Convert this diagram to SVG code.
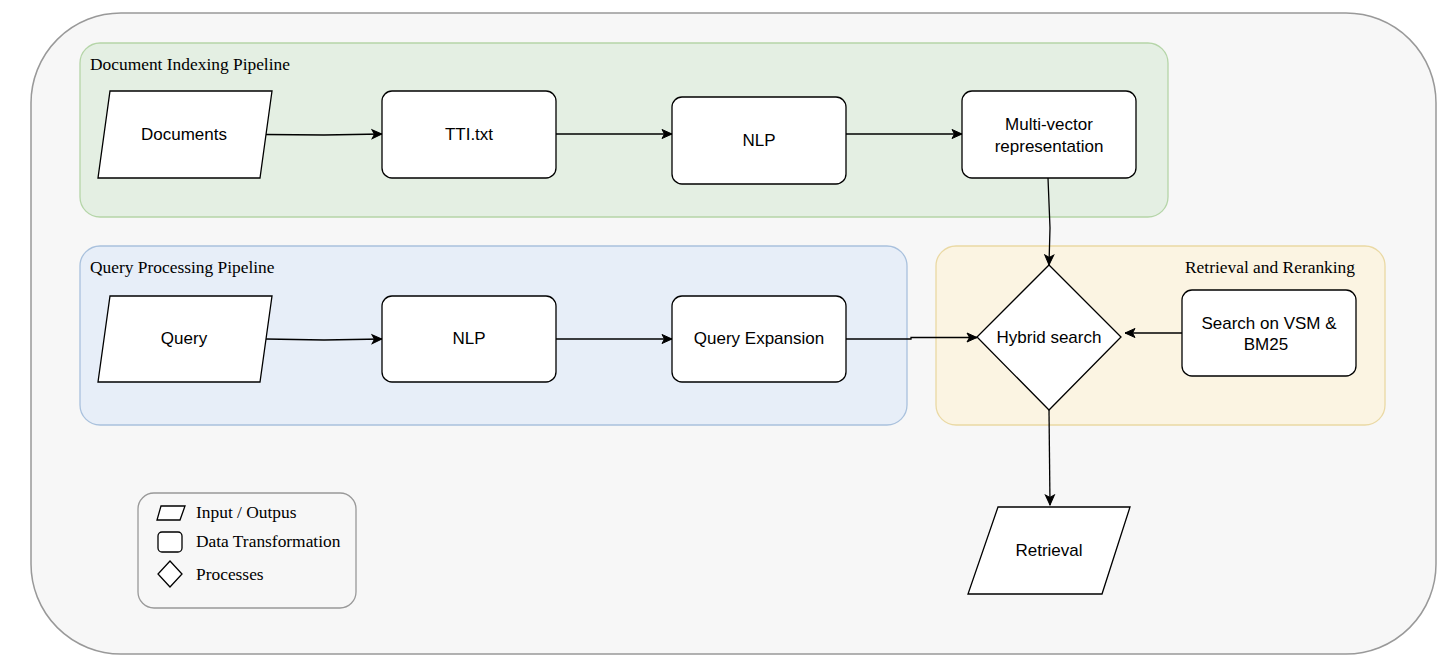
<svg xmlns="http://www.w3.org/2000/svg" width="1449" height="667" viewBox="0 0 1449 667">
  <defs>
    <marker id="arrow" viewBox="0 0 12 12" refX="11" refY="6" markerWidth="12" markerHeight="12" markerUnits="userSpaceOnUse" orient="auto">
      <path d="M1,1.5 L11,6 L1,10.5 L3.5,6 Z" fill="#000" stroke="#000" stroke-width="1"/>
    </marker>
    <style>
      .node { fill: #fff; stroke: #000; stroke-width: 1.3; }
      .lbl { font-family: "Liberation Sans", Arial, sans-serif; font-size: 17px; fill: #000; text-anchor: middle; dominant-baseline: central; }
      .title { font-family: "Liberation Serif", "Times New Roman", serif; font-size: 17.4px; fill: #000; }
      .edge { fill: none; stroke: #000; stroke-width: 1.3; marker-end: url(#arrow); }
    </style>
  </defs>

  <rect width="1449" height="667" fill="#fff"/>

  <!-- outer container -->
  <rect id="container" x="31" y="13" width="1405" height="641" rx="90" ry="90" fill="#f7f7f7" stroke="#999" stroke-width="1.5"/>

  <!-- pipeline groups -->
  <g id="group-indexing">
    <rect x="80" y="43" width="1088" height="174" rx="20" ry="20" fill="#e4efe3" stroke="#b5d5a8" stroke-width="1.3"/>
    <text class="title" x="90" y="70">Document Indexing Pipeline</text>
  </g>
  <g id="group-query">
    <rect x="80" y="246" width="827" height="179" rx="20" ry="20" fill="#e7eef8" stroke="#a9c1dd" stroke-width="1.3"/>
    <text class="title" x="90" y="273">Query Processing Pipeline</text>
  </g>
  <g id="group-retrieval">
    <rect x="936" y="246" width="449" height="179" rx="20" ry="20" fill="#fbf4e2" stroke="#ead9a4" stroke-width="1.3"/>
    <text class="title" x="1355" y="273" text-anchor="end">Retrieval and Reranking</text>
  </g>

  <!-- connectors -->
  <g id="connectors">
    <path class="edge" d="M266,134.5 L324,135 L382,134"/>
    <path class="edge" d="M556,134 L672,134"/>
    <path class="edge" d="M846,134 L962,134"/>
    <path class="edge" d="M1048,178 L1050,228 L1049,265"/>
    <path class="edge" d="M266,339 L324,340 L382,339"/>
    <path class="edge" d="M556,339 L672,339"/>
    <path class="edge" d="M846,339 L911,339 L911,337.5 L977,337.5"/>
    <path class="edge" d="M1182,333 L1125,333"/>
    <path class="edge" d="M1049,410 L1050,505"/>
  </g>

  <!-- nodes -->
  <g id="node-documents">
    <polygon class="node" points="110,91 272,91 260,178 98,178"/>
    <text class="lbl" x="184" y="134">Documents</text>
  </g>
  <g id="node-tti">
    <rect class="node" x="382" y="91" width="174" height="87" rx="10" ry="10"/>
    <text class="lbl" x="469" y="134">TTI.txt</text>
  </g>
  <g id="node-nlp-doc">
    <rect class="node" x="672" y="97" width="174" height="87" rx="10" ry="10"/>
    <text class="lbl" x="759" y="140">NLP</text>
  </g>
  <g id="node-multivector">
    <rect class="node" x="962" y="91" width="174" height="87" rx="10" ry="10"/>
    <text class="lbl" x="1049" y="124">Multi-vector</text>
    <text class="lbl" x="1049" y="146">representation</text>
  </g>
  <g id="node-query">
    <polygon class="node" points="110,296 272,296 260,382 98,382"/>
    <text class="lbl" x="184" y="338">Query</text>
  </g>
  <g id="node-nlp-query">
    <rect class="node" x="382" y="296" width="174" height="86" rx="10" ry="10"/>
    <text class="lbl" x="469" y="338">NLP</text>
  </g>
  <g id="node-expansion">
    <rect class="node" x="672" y="296" width="174" height="86" rx="10" ry="10"/>
    <text class="lbl" x="759" y="338">Query Expansion</text>
  </g>
  <g id="node-hybrid">
    <polygon class="node" points="1049,265 1121,337 1049,410 977,337"/>
    <text class="lbl" x="1049" y="337">Hybrid search</text>
  </g>
  <g id="node-vsm">
    <rect class="node" x="1182" y="290" width="174" height="86" rx="10" ry="10"/>
    <text class="lbl" x="1269" y="323">Search on VSM &amp;</text>
    <text class="lbl" x="1266" y="344">BM25</text>
  </g>
  <g id="node-retrieval">
    <polygon class="node" points="998,507 1130,507 1102,594 968,594"/>
    <text class="lbl" x="1049" y="550">Retrieval</text>
  </g>

  <!-- legend -->
  <g id="legend">
    <rect x="138" y="493" width="218" height="115" rx="16" ry="16" fill="#f7f7f7" stroke="#999" stroke-width="1.3"/>
    <polygon class="node" points="161,506 185,506 180,520 157,520"/>
    <rect class="node" x="158" y="532" width="24" height="20" rx="4" ry="4"/>
    <polygon class="node" points="170,561 182,574 170,587 158,574"/>
    <text class="title" x="196" y="518">Input / Outpus</text>
    <text class="title" x="196" y="547">Data Transformation</text>
    <text class="title" x="196" y="580">Processes</text>
  </g>
</svg>
